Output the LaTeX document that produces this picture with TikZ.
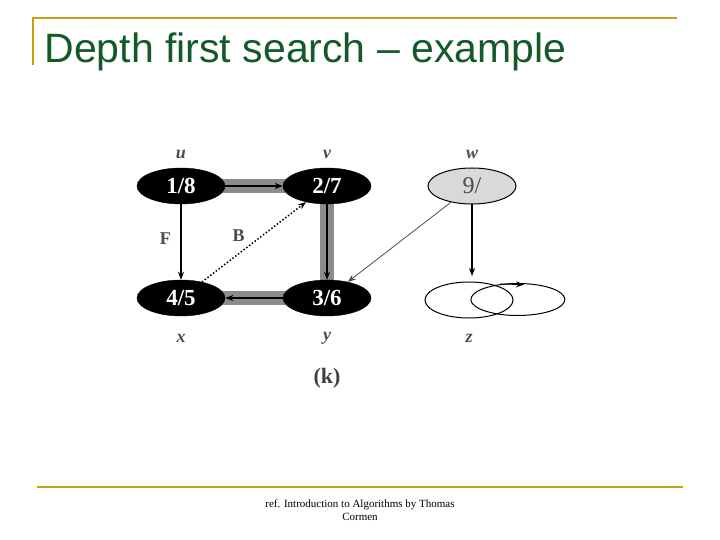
\documentclass[tikz,border=0pt]{standalone}
\usepackage{fontspec}
\setmainfont{Liberation Serif}
\newfontfamily\sansf{Liberation Sans}
\usetikzlibrary{shapes.geometric,arrows.meta}
\definecolor{gold}{RGB}{200,160,20}
\definecolor{titlegreen}{RGB}{20,90,40}
\begin{document}
\begin{tikzpicture}[x=1pt,y=-1pt,
  vtx/.style={ellipse,draw,minimum width=88pt,minimum height=36pt,inner sep=0pt,font=\bfseries\fontsize{23}{23}\selectfont},
  blk/.style={vtx,fill=black,text=white},
  lbl/.style={font=\itshape\bfseries\fontsize{18}{18}\selectfont,text=black!70},
  elbl/.style={font=\bfseries\fontsize{18}{18}\selectfont,text=black!70},
  tree/.style={line width=14pt,black!45},
  edge/.style={-{Stealth[length=8pt]},line width=1.5pt}]
\useasboundingbox (0,0) rectangle (720,540);
\draw[gold,line width=1.5pt] (33,65) -- (33,18) -- (677,18);
\draw[gold,line width=1.5pt] (37,487) -- (683,487);
\node[anchor=west,text=titlegreen,font=\sansf\fontsize{41}{41}\selectfont] (title) at (41,52) {Depth first search – example};
\node[align=center,font=\fontsize{11}{13}\selectfont] (ref) at (360,510) {ref. Introduction to Algorithms by Thomas\\Cormen};
\coordinate (pu) at (181,186); \coordinate (pv) at (327,186);
\coordinate (px) at (181,298); \coordinate (py) at (327,298);
\draw[tree] (pu) -- (pv) -- (py) -- (px);
\node[blk] (u) at (pu) {1/8};
\node[blk] (v) at (pv) {2/7};
\node[blk] (x) at (px) {4/5};
\node[blk] (y) at (py) {3/6};
\node[vtx,fill=black!15,text=black!70,font=\fontsize{24}{24}\selectfont,line width=1pt] (w) at (472,186) {9/};
\node[vtx,line width=1pt] (z) at (469,300) {};
\draw[line width=1pt] (498,285) arc[start angle=115,end angle=-245,x radius=47pt,y radius=16pt];
\draw[-{Stealth[length=8pt]},line width=1pt] (500,284) -- (524,284.5);
\draw[edge] (u) -- (v);
\draw[edge] (v) -- (y);
\draw[edge] (y) -- (x);
\draw[edge] (u) -- node[elbl,left=6pt,pos=0.45]{F} (x);
\draw[edge,dotted] (x) -- node[elbl,above left=0pt,pos=0.45]{B} (v);
\draw[edge,line width=0.8pt,black!70] (w) -- (y);
\draw[edge] (w) -- (472,276);
\node[lbl] (lu) at (181,154) {u};
\node[lbl] (lv) at (327,154) {v};
\node[lbl] (lw) at (472,154) {w};
\node[lbl] (lx) at (181,338) {x};
\node[lbl] (ly) at (327,338) {y};
\node[lbl] (lz) at (469,338) {z};
\node[font=\bfseries\fontsize{22}{22}\selectfont,text=black!75] (k) at (327,378) {(k)};
\end{tikzpicture}
\end{document}
